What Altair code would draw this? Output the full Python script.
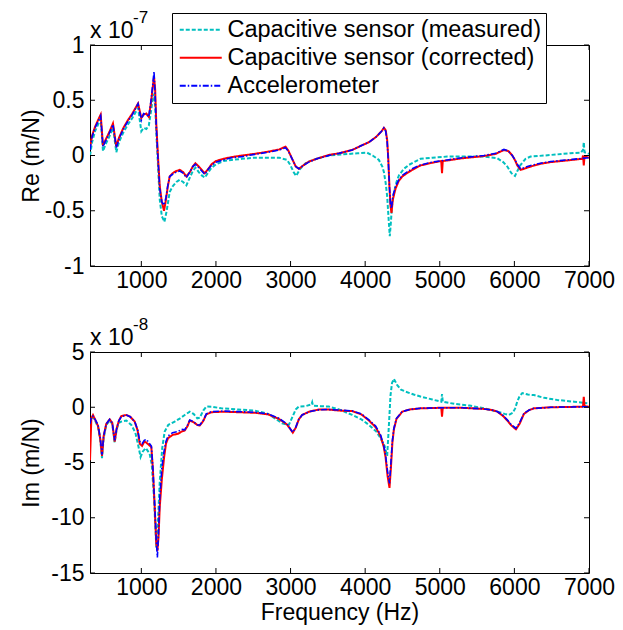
import altair as alt
import pandas as pd

FONT = "Liberation Sans"
SERIES = ["Capacitive sensor (measured)", "Capacitive sensor (corrected)", "Accelerometer"]
COLORS = ["#00BFBF", "#FF0000", "#0000FF"]
DASHES = [[4, 2], [1, 0], [6, 2, 1.5, 2]]
WIDTHS = [2, 2, 1.6]

X_TICKS = [1000, 2000, 3000, 4000, 5000, 6000, 7000]
RE_TICKS = [-1, -0.5, 0, 0.5, 1]
IM_TICKS = [-15, -10, -5, 0, 5]

# ---- Real part (x 1e-7 m/N) ----
re_meas_f = [312, 340, 380, 420, 455, 486, 520, 570, 620, 665, 700, 760, 820, 880, 956, 1000, 1030, 1067, 1100, 1130,
             1150, 1170, 1185, 1201, 1224, 1247, 1275, 1310, 1340, 1380, 1420, 1470, 1515, 1560, 1604, 1650, 1690, 1725,
             1770, 1810, 1850, 1900, 1940, 2000, 2100, 2207, 2350, 2520, 2700, 2850, 2954, 3000, 3040, 3075, 3130, 3200,
             3300, 3400, 3513, 3700, 3900, 4027, 4100, 4184, 4230, 4251, 4275, 4295, 4315, 4330, 4345, 4360, 4385, 4420,
             4452, 4520, 4586, 4742, 4900, 5100, 5300, 5592, 5771, 5850, 5905, 5960, 6008, 6040, 6083, 6150, 6217, 6400,
             6575, 6750, 6888, 6920, 6930, 6940, 7000]
re_meas_v = [0.0, 0.12, 0.22, 0.28, 0.33, 0.04, 0.1, 0.17, 0.25, 0.03, 0.12, 0.21, 0.28, 0.34, 0.43, 0.22, 0.25, 0.24, 0.27,
             0.4, 0.5, 0.56, 0.45, 0.2, -0.1, -0.4, -0.55, -0.6, -0.5, -0.33, -0.28, -0.24, -0.22, -0.24, -0.27, -0.2,
             -0.14, -0.11, -0.15, -0.18, -0.2, -0.15, -0.11, -0.08, -0.05, -0.04, -0.03, -0.02, -0.02, -0.02, -0.04,
             -0.09, -0.15, -0.185, -0.12, -0.07, -0.04, -0.02, 0.0, 0.01, 0.02, 0.025, 0.0, -0.04, -0.1, -0.15, -0.25,
             -0.37, -0.58, -0.73, -0.6, -0.45, -0.34, -0.24, -0.18, -0.12, -0.085, -0.03, -0.02, -0.01, -0.01, -0.01,
             -0.025, -0.06, -0.1, -0.16, -0.185, -0.14, -0.085, -0.03, -0.01, 0.0, 0.01, 0.02, 0.025, 0.05, 0.12, 0.03,
             0.015]

re_corr_f = [312, 340, 380, 420, 455, 486, 520, 570, 620, 665, 700, 760, 820, 880, 956, 1000, 1030, 1067, 1100, 1130,
             1150, 1170, 1185, 1201, 1224, 1247, 1275, 1304, 1330, 1355, 1380, 1420, 1470, 1515, 1560, 1604, 1650, 1690,
             1725, 1770, 1810, 1850, 1900, 1940, 2000, 2100, 2207, 2350, 2520, 2700, 2850, 2932, 2970, 3021, 3070, 3111,
             3170, 3245, 3350, 3513, 3650, 3826, 3950, 4050, 4150, 4220, 4251, 4275, 4295, 4310, 4325, 4340, 4353, 4370,
             4407, 4450, 4497, 4560, 4631, 4742, 4900, 5020, 5030, 5040, 5100, 5300, 5592, 5750, 5860, 5920, 5972, 6010,
             6039, 6083, 6130, 6217, 6350, 6485, 6700, 6910, 6920, 6930, 6940, 7000]
re_corr_v = [0.08, 0.18, 0.26, 0.32, 0.37, 0.09, 0.14, 0.21, 0.29, 0.08, 0.16, 0.25, 0.32, 0.38, 0.47, 0.34, 0.37, 0.38,
             0.35, 0.48, 0.6, 0.71, 0.6, 0.28, -0.02, -0.28, -0.42, -0.5, -0.4, -0.28, -0.19, -0.16, -0.14, -0.13, -0.15,
             -0.19, -0.15, -0.1, -0.07, -0.1, -0.13, -0.16, -0.12, -0.08, -0.05, -0.03, -0.015, 0.0, 0.015, 0.035, 0.055,
             0.08, 0.045, -0.03, -0.1, -0.12, -0.09, -0.055, -0.03, 0.005, 0.02, 0.05, 0.09, 0.12, 0.17, 0.22, 0.25, 0.23,
             0.14, -0.03, -0.28, -0.46, -0.52, -0.4, -0.3, -0.23, -0.19, -0.16, -0.13, -0.09, -0.065, -0.05, -0.16,
             -0.05, -0.045, -0.025, -0.005, 0.015, 0.05, 0.04, 0.0, -0.045, -0.09, -0.13, -0.12, -0.1, -0.075, -0.06,
             -0.045, -0.03, 0.0, -0.09, -0.01, -0.02]

re_acc_f = [312, 340, 380, 420, 455, 486, 520, 570, 620, 665, 700, 760, 820, 880, 956, 1000, 1030, 1067, 1100, 1130,
            1150, 1170, 1185, 1201, 1224, 1247, 1275, 1304, 1330, 1355, 1380, 1420, 1470, 1515, 1560, 1604, 1650, 1690,
            1725, 1770, 1810, 1850, 1900, 1940, 2000, 2100, 2207, 2350, 2520, 2700, 2850, 2932, 2970, 3021, 3070, 3111,
            3170, 3245, 3350, 3513, 3650, 3826, 3950, 4050, 4150, 4220, 4251, 4275, 4295, 4310, 4325, 4340, 4353, 4370,
            4407, 4450, 4497, 4560, 4631, 4742, 4900, 5100, 5300, 5592, 5750, 5860, 5920, 5972, 6010, 6039, 6083, 6130,
            6217, 6350, 6485, 6700, 7000]
re_acc_v = [0.05, 0.17, 0.25, 0.31, 0.36, 0.08, 0.13, 0.2, 0.28, 0.07, 0.15, 0.24, 0.31, 0.37, 0.47, 0.32, 0.38, 0.37,
            0.35, 0.5, 0.62, 0.76, 0.55, 0.26, -0.04, -0.3, -0.42, -0.45, -0.38, -0.27, -0.19, -0.17, -0.15, -0.14,
            -0.16, -0.2, -0.15, -0.1, -0.08, -0.11, -0.14, -0.17, -0.12, -0.09, -0.06, -0.04, -0.02, -0.01, 0.01, 0.03,
            0.05, 0.07, 0.04, -0.03, -0.1, -0.12, -0.09, -0.06, -0.03, 0.0, 0.02, 0.05, 0.09, 0.12, 0.17, 0.22, 0.25,
            0.22, 0.12, -0.05, -0.28, -0.45, -0.48, -0.37, -0.28, -0.22, -0.18, -0.15, -0.12, -0.085, -0.06, -0.04,
            -0.02, 0.0, 0.02, 0.055, 0.04, 0.0, -0.04, -0.08, -0.12, -0.11, -0.09, -0.07, -0.055, -0.04, -0.02]

# ---- Imaginary part (x 1e-8 m/N) ----
im_meas_f = [312, 330, 352, 380, 420, 450, 473, 495, 530, 576, 610, 643, 670, 700, 732, 799, 866, 920, 960, 990, 1020,
             1060, 1111, 1140, 1170, 1201, 1225, 1247, 1280, 1313, 1360, 1447, 1520, 1582, 1649, 1700, 1750, 1783, 1830,
             1872, 1950, 2072, 2300, 2521, 2700, 2887, 2977, 3030, 3070, 3111, 3200, 3280, 3290, 3300, 3400, 3513, 3650,
             3826, 3950, 4050, 4150, 4206, 4260, 4295, 4315, 4340, 4360, 4385, 4430, 4480, 4541, 4650, 4742, 4900, 5020,
             5030, 5040, 5200, 5400, 5592, 5771, 5870, 5927, 5980, 6010, 6039, 6070, 6106, 6180, 6262, 6400, 6575, 6800,
             6977]
im_meas_v = [-1.5, -1.0, -0.9, -1.2, -1.8, -3.0, -4.6, -2.8, -1.6, -1.2, -1.5, -3.2, -2.0, -1.4, -1.3, -1.2, -1.6, -2.3,
             -3.5, -4.5, -4.0, -3.7, -4.2, -5.2, -8.2, -12.7, -10.0, -6.7, -3.7, -2.2, -1.6, -1.3, -1.0, -0.7, -0.4,
             -0.6, -1.0, -0.95, -0.3, 0.06, 0.05, -0.1, -0.2, -0.3, -0.6, -1.45, -1.6, -0.8, -0.2, 0.06, 0.1, 0.25, 0.45,
             0.15, 0.1, 0.06, -0.2, -0.69, -1.1, -1.6, -2.2, -2.8, -3.5, -4.4, -2.0, 1.1, 2.2, 2.57, 2.0, 1.6, 1.42,
             1.15, 0.97, 0.7, 0.5, 1.2, 0.5, 0.3, 0.15, -0.09, -0.39, -0.6, -0.69, -0.5, -0.1, 0.52, 1.0, 1.28, 1.15,
             1.1, 0.85, 0.66, 0.5, 0.36]

im_corr_f = [312, 330, 352, 380, 420, 450, 473, 495, 530, 576, 610, 643, 670, 700, 732, 799, 850, 911, 950, 979, 1010,
             1040, 1067, 1100, 1134, 1155, 1179, 1200, 1215, 1230, 1247, 1275, 1304, 1330, 1358, 1420, 1492, 1540, 1582,
             1620, 1649, 1700, 1750, 1783, 1830, 1870, 1939, 2100, 2300, 2521, 2700, 2843, 2950, 3000, 3030, 3070, 3110,
             3155, 3250, 3379, 3500, 3650, 3826, 3950, 4050, 4140, 4206, 4250, 4273, 4300, 4326, 4345, 4365, 4385, 4420,
             4497, 4600, 4742, 5000, 5020, 5030, 5040, 5300, 5592, 5700, 5771, 5850, 5905, 5960, 6021, 6070, 6128, 6200,
             6262, 6500, 6910, 6920, 6930, 6940, 7000]
im_corr_v = [-4.8, -1.0, -0.7, -1.1, -1.7, -2.9, -4.4, -2.6, -1.5, -1.1, -1.4, -3.1, -1.9, -1.2, -0.8, -0.7, -0.85, -1.3,
             -2.1, -3.3, -3.5, -3.1, -3.2, -3.4, -3.6, -5.6, -9.0, -12.3, -13.0, -11.8, -9.0, -6.5, -4.6, -3.3, -2.8,
             -2.5, -2.4, -2.2, -2.1, -1.7, -1.2, -1.35, -1.6, -1.65, -1.25, -0.65, -0.45, -0.4, -0.45, -0.5, -0.65,
             -1.05, -1.55, -2.0, -2.3, -1.85, -1.1, -0.7, -0.4, -0.2, -0.2, -0.3, -0.35, -0.65, -1.2, -1.8, -2.6, -3.6,
             -4.5, -6.2, -7.3, -5.5, -3.2, -2.0, -1.05, -0.4, -0.2, -0.1, -0.05, -0.05, -0.85, -0.05, -0.05, -0.15,
             -0.25, -0.4, -0.8, -1.2, -1.65, -2.0, -1.5, -0.6, -0.25, -0.1, 0.0, 0.05, 0.1, 0.95, 0.1, 0.05]

im_acc_f = [312, 330, 352, 380, 420, 450, 473, 495, 530, 576, 610, 643, 670, 700, 732, 799, 850, 911, 950, 979, 1010,
            1040, 1067, 1100, 1134, 1155, 1179, 1200, 1215, 1230, 1247, 1275, 1304, 1330, 1358, 1420, 1492, 1540, 1582,
            1620, 1649, 1700, 1750, 1783, 1830, 1870, 1939, 2100, 2300, 2521, 2700, 2843, 2950, 3000, 3030, 3070, 3110,
            3155, 3250, 3379, 3500, 3650, 3826, 3950, 4050, 4140, 4206, 4250, 4273, 4300, 4326, 4345, 4365, 4385, 4420,
            4497, 4600, 4742, 5000, 5300, 5592, 5700, 5771, 5850, 5905, 5960, 6021, 6070, 6128, 6200, 6262, 6500, 7000]
im_acc_v = [-1.5, -0.9, -0.8, -1.1, -1.6, -2.8, -4.3, -2.6, -1.5, -1.1, -1.4, -3.0, -1.9, -1.2, -0.85, -0.7, -0.85,
            -1.3, -2.0, -3.1, -3.3, -3.0, -2.9, -3.2, -3.5, -5.5, -8.8, -12.0, -13.6, -11.5, -8.2, -5.5, -4.0, -3.1,
            -2.6, -2.3, -2.2, -2.0, -2.05, -1.6, -1.15, -1.3, -1.6, -1.6, -1.2, -0.6, -0.4, -0.35, -0.4, -0.45, -0.6,
            -1.0, -1.5, -2.0, -2.26, -1.8, -1.1, -0.7, -0.4, -0.24, -0.2, -0.25, -0.33, -0.6, -1.14, -1.7, -2.5, -3.5,
            -4.3, -5.8, -6.9, -5.0, -3.0, -1.9, -1.0, -0.39, -0.2, -0.09, -0.05, -0.05, -0.15, -0.25, -0.39, -0.75,
            -1.14, -1.6, -1.9, -1.4, -0.54, -0.25, -0.1, 0.0, 0.05]

W, H = 499, 221
XDOM = [312, 7000]
FS = 23


def panel(series, ydom, yticks, ytitle, exponent, xtitle, legend):
    layers = []
    xs = alt.Scale(domain=XDOM, nice=False, zero=False)
    ys = alt.Scale(domain=ydom, nice=False, zero=False)
    xaxis = alt.Axis(values=X_TICKS, format="d", labelFlush=False, title=xtitle, titleY=28,
                     labelPadding=3)
    yaxis = alt.Axis(values=yticks, labelExpr="'' + datum.value", title=ytitle, titleX=-47,
                     labelPadding=6)
    for i, (name, (f, v)) in enumerate(zip(SERIES, series)):
        assert len(f) == len(v), name
        df = pd.DataFrame({"f": f, "v": v, "s": name})
        layers.append(
            alt.Chart(df).mark_line(strokeWidth=WIDTHS[i], clip=True).encode(
                x=alt.X("f:Q", scale=xs, axis=xaxis),
                y=alt.Y("v:Q", scale=ys, axis=yaxis),
                color=alt.Color("s:N", scale=alt.Scale(domain=SERIES, range=COLORS), legend=legend),
                strokeDash=alt.StrokeDash("s:N", scale=alt.Scale(domain=SERIES, range=DASHES), legend=legend),
            )
        )
    xt = pd.DataFrame({"f": X_TICKS})
    yt = pd.DataFrame({"v": yticks})
    tick = dict(color="black", strokeWidth=1)
    layers += [
        alt.Chart(xt).mark_rule(**tick).encode(x=alt.X("f:Q", scale=xs), y=alt.value(H), y2=alt.value(H - 5)),
        alt.Chart(xt).mark_rule(**tick).encode(x=alt.X("f:Q", scale=xs), y=alt.value(0), y2=alt.value(5)),
        alt.Chart(yt).mark_rule(**tick).encode(y=alt.Y("v:Q", scale=ys), x=alt.value(0), x2=alt.value(5)),
        alt.Chart(yt).mark_rule(**tick).encode(y=alt.Y("v:Q", scale=ys), x=alt.value(W - 5), x2=alt.value(W)),
        alt.Chart(pd.DataFrame({"t": ["x 10"]})).mark_text(
            align="left", baseline="alphabetic", fontSize=FS, font=FONT, color="black"
        ).encode(x=alt.value(0), y=alt.value(-7), text="t:N"),
        alt.Chart(pd.DataFrame({"t": [exponent]})).mark_text(
            align="left", baseline="alphabetic", fontSize=17, font=FONT, color="black"
        ).encode(x=alt.value(43), y=alt.value(-22), text="t:N"),
    ]
    return alt.layer(*layers).properties(width=W, height=H)


legend = alt.Legend(
    orient="none", legendX=82, legendY=-32, title=None,
    symbolType="M-2,0H2", symbolSize=441, symbolStrokeWidth=2, symbolOffset=12,
    labelOffset=15, labelFontSize=23.5, labelFont=FONT, labelColor="black", labelLimit=0,
    fillColor="white", strokeColor="black", padding=5, rowPadding=3,
)

top = panel([(re_meas_f, re_meas_v), (re_corr_f, re_corr_v), (re_acc_f, re_acc_v)],
            [-1, 1], RE_TICKS, "Re (m/N)", "-7", None, legend)
bottom = panel([(im_meas_f, im_meas_v), (im_corr_f, im_corr_v), (im_acc_f, im_acc_v)],
               [-15, 5], IM_TICKS, "Im (m/N)", "-8", "Frequency (Hz)", None)

chart = alt.vconcat(top, bottom, spacing=86, bounds="flush").resolve_legend(
    color="independent", strokeDash="independent"
).properties(
    padding={"top": 8, "left": 19, "right": 5, "bottom": 5}, background="white"
).configure_view(stroke="black", strokeWidth=1).configure_axis(
    grid=False, ticks=False, domain=False, labelFont=FONT, titleFont=FONT, labelFontSize=FS,
    titleFontSize=FS, titleFontWeight="normal", labelColor="black", titleColor="black",
)

chart.save("out.html", embed_options={"renderer": "svg", "actions": False})
